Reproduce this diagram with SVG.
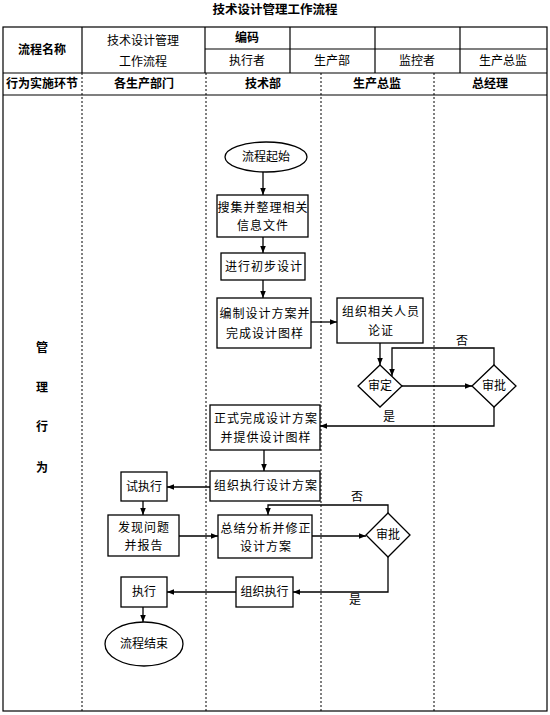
<svg xmlns="http://www.w3.org/2000/svg" width="550" height="715" viewBox="0 0 550 715">
<defs>
<marker id="ah" viewBox="0 0 10 10" refX="10" refY="5" markerWidth="7" markerHeight="7" markerUnits="userSpaceOnUse" orient="auto">
<path d="M0,1 L10,5 L0,9 z" fill="#000"/>
</marker>
<style>
text{font-family:"Noto Sans CJK SC","Liberation Sans",sans-serif;font-size:12px;fill:#000;text-anchor:middle}
.b{font-weight:bold}
.t{font-size:12.5px;font-weight:bold}
.grid{stroke:#000;stroke-width:1.2;fill:none}
.dot{stroke:#000;stroke-width:1;stroke-dasharray:2,2;fill:none}
.box{fill:#fff;stroke:#000;stroke-width:1.3}
.con{fill:none;stroke:#000;stroke-width:1.3}
.arr{fill:none;stroke:#000;stroke-width:1.3;marker-end:url(#ah)}
.lbl{letter-spacing:1px}
</style>
</defs>
<rect width="550" height="715" fill="#fff"/>
<text class="t" x="275" y="14">技术设计管理工作流程</text>
<g id="table">
<rect class="grid" x="3" y="27" width="544" height="684"/>
<line class="grid" x1="3" y1="73" x2="547" y2="73"/>
<line class="grid" x1="3" y1="95" x2="547" y2="95"/>
<line class="grid" x1="205" y1="49" x2="547" y2="49"/>
<line class="grid" x1="82" y1="27" x2="82" y2="73"/>
<line class="grid" x1="205" y1="27" x2="205" y2="73"/>
<line class="grid" x1="290" y1="27" x2="290" y2="73"/>
<line class="grid" x1="375" y1="27" x2="375" y2="73"/>
<line class="grid" x1="460" y1="27" x2="460" y2="73"/>
<line class="dot" x1="82" y1="73" x2="82" y2="711"/>
<line class="dot" x1="206" y1="73" x2="206" y2="711"/>
<line class="dot" x1="321" y1="73" x2="321" y2="711"/>
<line class="dot" x1="434" y1="73" x2="434" y2="711"/>
<text class="b" x="42" y="54">流程名称</text>
<text x="143" y="45">技术设计管理</text>
<text x="143" y="66">工作流程</text>
<text class="b" x="247" y="42">编码</text>
<text x="247" y="65">执行者</text>
<text x="332" y="65">生产部</text>
<text x="417" y="65">监控者</text>
<text x="503" y="65">生产总监</text>
<text class="b" x="42" y="88">行为实施环节</text>
<text class="b" x="144" y="88">各生产部门</text>
<text class="b" x="263" y="88">技术部</text>
<text class="b" x="377" y="88">生产总监</text>
<text class="b" x="490" y="88">总经理</text>
<text class="b" x="42" y="352">管</text>
<text class="b" x="42" y="392">理</text>
<text class="b" x="42" y="431">行</text>
<text class="b" x="42" y="472">为</text>
</g>
<g id="connectors">
<line class="arr" x1="263" y1="172" x2="263" y2="195"/>
<line class="arr" x1="263" y1="237" x2="263" y2="253"/>
<line class="arr" x1="263" y1="280" x2="263" y2="298"/>
<line class="arr" x1="311" y1="322" x2="337" y2="322"/>
<line class="arr" x1="380" y1="343" x2="380" y2="365"/>
<line class="arr" x1="402" y1="386" x2="472" y2="386"/>
<path class="arr" d="M494,365 V348 H392 V376"/>
<path class="arr" d="M494,407 V426 H320"/>
<line class="arr" x1="264" y1="450" x2="264" y2="471"/>
<line class="arr" x1="210" y1="487" x2="167" y2="487"/>
<line class="arr" x1="143" y1="501" x2="143" y2="515"/>
<line class="arr" x1="179" y1="536" x2="218" y2="536"/>
<line class="arr" x1="312" y1="536" x2="366" y2="536"/>
<path class="arr" d="M388,513 V505 H268 V515"/>
<path class="arr" d="M388,557 V592 H293"/>
<line class="arr" x1="236" y1="592" x2="167" y2="592"/>
<line class="arr" x1="143" y1="607" x2="143" y2="622"/>
<text x="462" y="345">否</text>
<text x="389" y="421">是</text>
<text x="357" y="501">否</text>
<text x="355" y="604">是</text>
</g>
<g id="start"><ellipse class="box" cx="266" cy="157" rx="41" ry="15"/><text x="266" y="161">流程起始</text></g>
<g id="n1"><rect class="box" x="217" y="195" width="91" height="42"/><text class="lbl" x="263" y="212">搜集并整理相关</text><text class="lbl" x="263" y="230">信息文件</text></g>
<g id="n2"><rect class="box" x="221" y="253" width="84" height="27"/><text class="lbl" x="264" y="271">进行初步设计</text></g>
<g id="n3"><rect class="box" x="217" y="298" width="94" height="50"/><text class="lbl" x="265" y="318">编制设计方案并</text><text class="lbl" x="265" y="338">完成设计图样</text></g>
<g id="n4"><rect class="box" x="337" y="298" width="86" height="45"/><text class="lbl" x="381" y="316">组织相关人员</text><text class="lbl" x="381" y="335">论证</text></g>
<g id="d1"><polygon class="box" points="380,365 402,386 380,407 358,386"/><text x="380" y="390">审定</text></g>
<g id="d2"><polygon class="box" points="494,365 516,386 494,407 472,386"/><text x="494" y="390">审批</text></g>
<g id="n5"><rect class="box" x="210" y="405" width="110" height="45"/><text class="lbl" x="266" y="423">正式完成设计方案</text><text class="lbl" x="266" y="442">并提供设计图样</text></g>
<g id="n6"><rect class="box" x="210" y="471" width="110" height="30"/><text class="lbl" x="266" y="490">组织执行设计方案</text></g>
<g id="n7"><rect class="box" x="121" y="472" width="46" height="29"/><text x="144" y="491">试执行</text></g>
<g id="n8"><rect class="box" x="108" y="515" width="71" height="41"/><text class="lbl" x="144" y="532">发现问题</text><text class="lbl" x="144" y="550">并报告</text></g>
<g id="n9"><rect class="box" x="218" y="515" width="94" height="43"/><text class="lbl" x="266" y="533">总结分析并修正</text><text class="lbl" x="266" y="551">设计方案</text></g>
<g id="d3"><polygon class="box" points="388,513 410,535 388,557 366,535"/><text x="388" y="539">审批</text></g>
<g id="n10"><rect class="box" x="236" y="577" width="57" height="30"/><text x="264.5" y="596">组织执行</text></g>
<g id="n11"><rect class="box" x="121" y="577" width="46" height="30"/><text x="144" y="596">执行</text></g>
<g id="end"><ellipse class="box" cx="144" cy="644" rx="39" ry="22"/><text x="144" y="648">流程结束</text></g>
</svg>
